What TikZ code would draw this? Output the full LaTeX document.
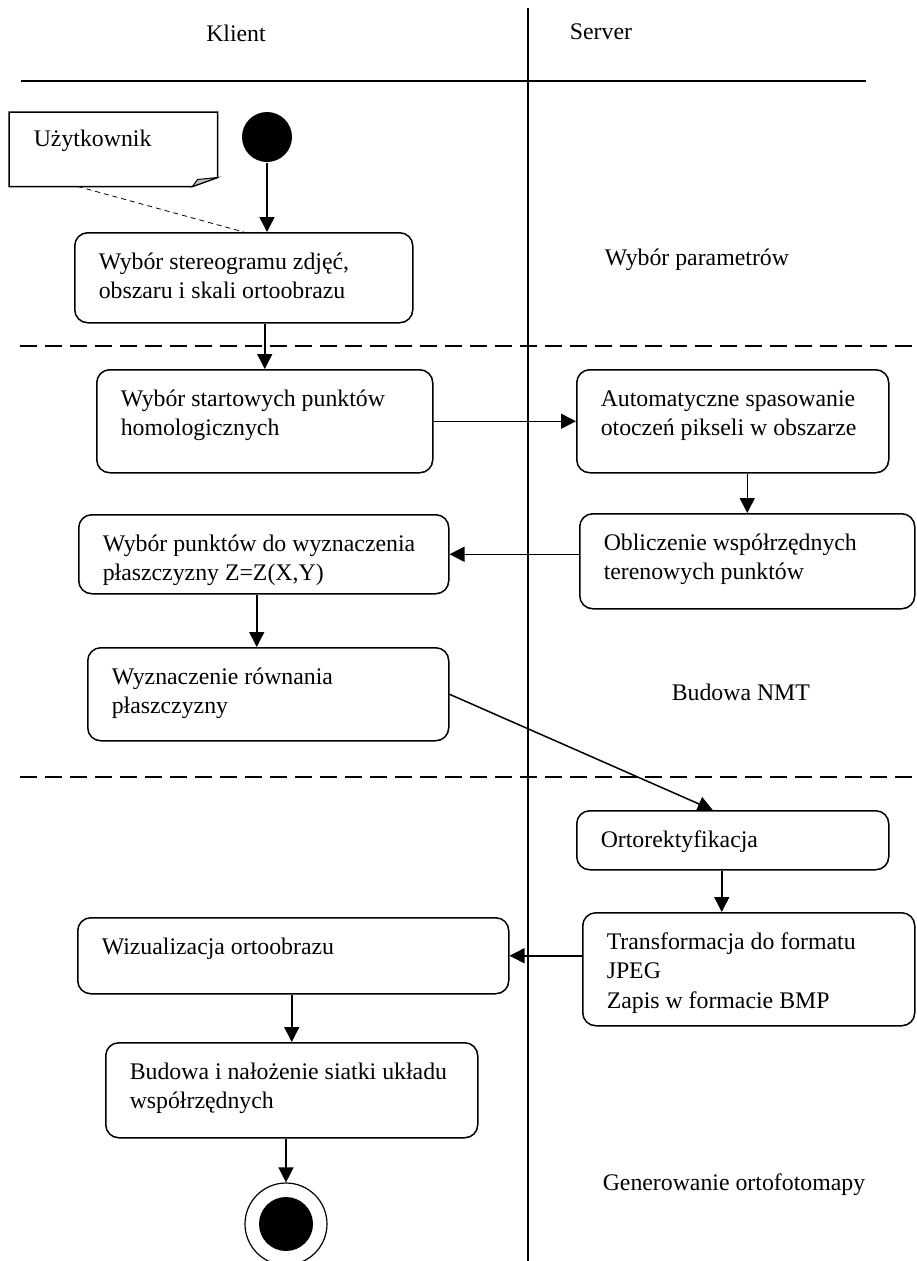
\documentclass[tikz,border=0pt]{standalone}
\usepackage{fontspec}
\setmainfont{Liberation Serif}
\usetikzlibrary{arrows.meta,calc}
\newcommand{\boxtext}[3]{\parbox[c][#2][t]{#1}{\leftskip=24pt\rightskip=0pt plus 1fil\strut #3}}

\begin{document}
\begin{tikzpicture}[x=1pt, y=-1pt, line width=1.5pt, >={Triangle[length=15pt,width=15pt]},
        font=\fontsize{23.8}{29.5}\selectfont]
        \tikzstyle{activity}=[draw, rounded corners=13pt, anchor=north west, inner xsep=0pt, inner ysep=16pt]
        \tikzstyle{lane}=[anchor=base west, inner sep=0pt]
        \tikzstyle{header}=[anchor=base, inner sep=0pt]
        \tikzstyle{separator}=[dash pattern=on 17pt off 8pt]

        \useasboundingbox (0,0) rectangle (916,1261);

        % Draw the swimlanes
        \node[header] (klient) at (236,41) {Klient};
        \node[header] (server) at (601,39) {Server};
        \draw (21,81) -- (866,81);
        \draw (528,8) -- (528,1261);
        \draw[separator] (20,346) -- (916,346);
        \draw[separator] (20,777) -- (916,777);

        \node[lane] (param) at (604,265) {Wybór parametrów};
        \node[lane] (nmt) at (671,700) {Budowa NMT};
        \node[lane] (gen) at (602,1190) {Generowanie ortofotomapy};

        % Draw the note
        \node[anchor=north west, inner xsep=0pt, inner ysep=13pt] (note) at (9,112) {\boxtext{207pt}{47pt}{Użytkownik}};
        \draw (note.north west) -- (note.north east) -- ([yshift=9pt]note.south east)
            -- ([xshift=-25pt]note.south east) -- (note.south west) -- cycle;
        \filldraw[fill=black!25, line width=1pt] ([xshift=-25pt]note.south east) -- ([xshift=-20pt,yshift=7pt]note.south east)
            -- ([yshift=9pt]note.south east) -- cycle;

        % Draw the start and end states
        \node[circle, fill=black, inner sep=0pt, minimum size=50pt] (start) at (267,137) {};
        \node[circle, draw, line width=1.2pt, inner sep=0pt, minimum size=82pt] (end) at (286,1224) {};
        \fill (end.center) circle[radius=27pt];

        % Draw the activities
        \node[activity] (box1) at (74,232) {\boxtext{338pt}{58pt}{Wybór stereogramu zdjęć,\\obszaru i skali ortoobrazu}};
        \node[activity] (box2) at (96,369) {\boxtext{336pt}{71pt}{Wybór startowych punktów\\homologicznych}};
        \node[activity] (box3) at (576,369) {\boxtext{312pt}{71pt}{Automatyczne spasowanie\\otoczeń pikseli w obszarze}};
        \node[activity] (box4) at (579,513) {\boxtext{335pt}{63pt}{Obliczenie współrzędnych\\terenowych punktów}};
        \node[activity] (box5) at (78,514) {\boxtext{370pt}{47pt}{Wybór punktów do wyznaczenia\\płaszczyzny Z=Z(X,Y)}};
        \node[activity] (box6) at (87,647) {\boxtext{361pt}{61pt}{Wyznaczenie równania\\płaszczyzny}};
        \node[activity] (box7) at (576,810) {\boxtext{312pt}{27pt}{Ortorektyfikacja}};
        \node[activity] (box8) at (582,912) {\boxtext{332pt}{81pt}{Transformacja do formatu\\JPEG\\Zapis w formacie BMP}};
        \node[activity] (box9) at (77,917) {\boxtext{431pt}{44pt}{Wizualizacja ortoobrazu}};
        \node[activity] (box10) at (105,1042) {\boxtext{372pt}{63pt}{Budowa i nałożenie siatki układu\\współrzędnych}};

        % Connect the activities
        \draw[line width=0.8pt, dash pattern=on 5pt off 4pt] ($(note.south west)!0.33!(note.south east)$) -- (box1.north);
        \draw[->] (start) -- (start |- box1.north);
        \draw[->] (box2.north |- box1.south) -- (box2.north);
        \draw[->] (box2.east) -- (box3.west);
        \draw[->] (box3.south -| box4.north) -- (box4.north);
        \draw[->] (box4.west |- box5.east) -- (box5.east);
        \draw[->] ([xshift=-7pt]box5.south) -- ([xshift=-7pt]box5.south |- box6.north);
        \draw[->] (box6.east) -- ([xshift=-20pt]box7.north);
        \draw[->] ([xshift=-11pt]box7.south) -- ([xshift=-11pt]box7.south |- box8.north);
        \draw[->] (box8.west |- box9.east) -- (box9.east);
        \draw[->] (box9.south -| box10.north) -- (box10.north);
        \draw[->] (box10.south -| end.north) -- (end.north);
    \end{tikzpicture}
\end{document}
